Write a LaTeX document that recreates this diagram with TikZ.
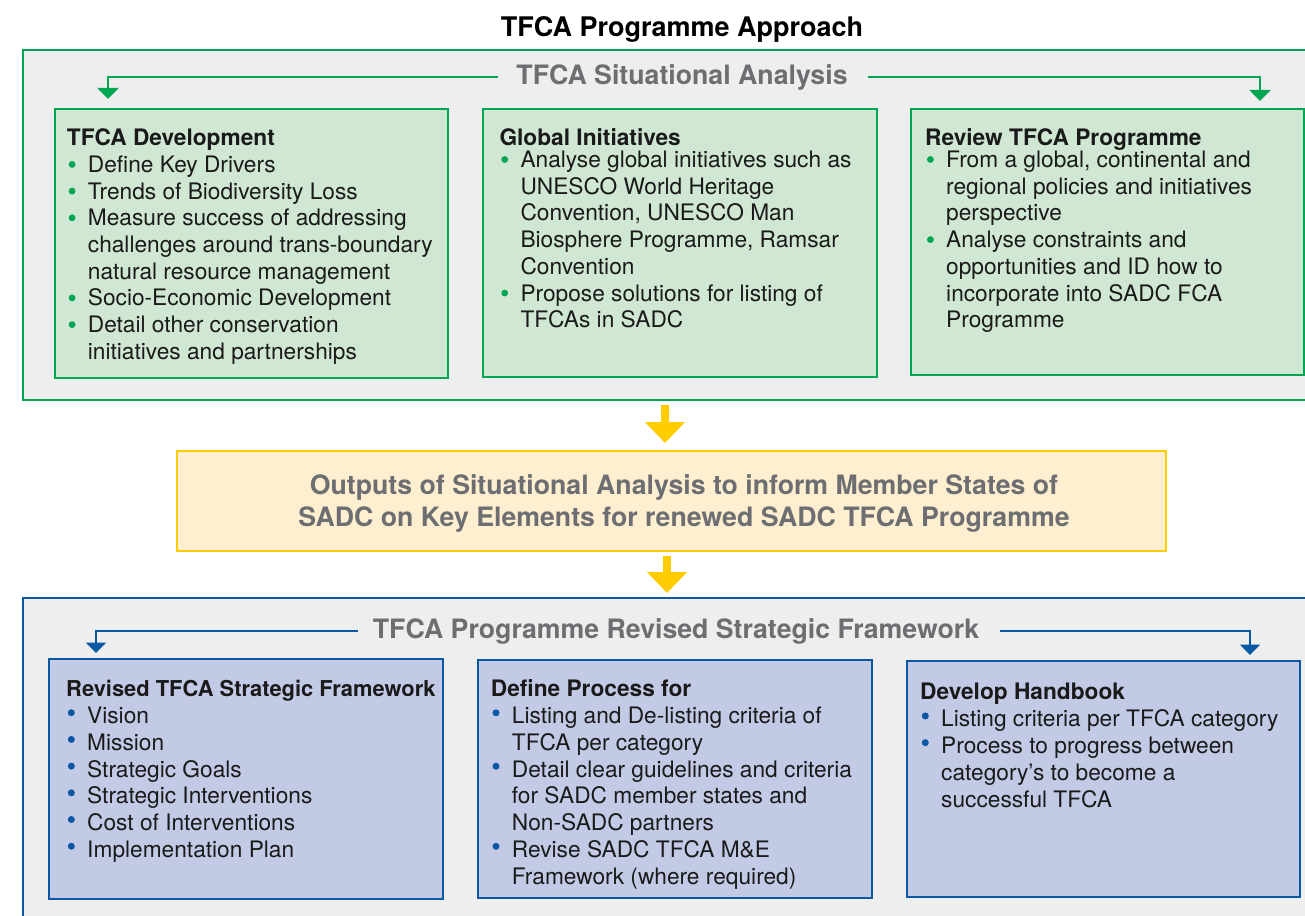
\documentclass[tikz,border=0pt]{standalone}
\usepackage{fontspec}
\setmainfont{TeX Gyre Heros}
\usetikzlibrary{arrows.meta}
\definecolor{tgreen}{HTML}{00A651}
\definecolor{lgreen}{HTML}{D0E7D3}
\definecolor{tblue}{HTML}{0A57A4}
\definecolor{lblue}{HTML}{C3CAE6}
\definecolor{tyellow}{HTML}{FFCC00}
\definecolor{lyellow}{HTML}{FEEFD0}
\definecolor{bggray}{HTML}{EEEEEE}
\definecolor{tgray}{HTML}{6D6E71}
\definecolor{txt}{HTML}{1A1A1A}
\newcommand{\gbul}{\makebox[21pt][l]{\hspace{1.8pt}\tikz[baseline=0pt]\fill[tgreen] (3.4pt,8pt) circle[radius=3.4pt];}}
\newcommand{\bbul}{\makebox[21pt][l]{\hspace{1.6pt}\tikz[baseline=0pt]\fill[tblue] (3.5pt,11pt) circle[radius=3.5pt];}}
\newcommand{\cind}{\hspace*{21pt}}
\begin{document}
\begin{tikzpicture}[x=1pt,y=-1pt,
  gbox/.style={draw=tgreen, fill=lgreen, line width=2.2pt, anchor=north west, inner sep=0pt, outer sep=0pt},
  bbox/.style={draw=tblue, fill=lblue, line width=2.2pt, anchor=north west, inner sep=0pt, outer sep=0pt},
  ybox/.style={draw=tyellow, fill=lyellow, line width=2.2pt, anchor=north west, inner sep=0pt, outer sep=0pt},
  body/.style={anchor=north west, inner sep=0pt, align=left, font=\fontsize{22.7pt}{26.7pt}\selectfont, text=txt},
  lbl/.style={font=\fontsize{26.7pt}{31pt}\selectfont\bfseries, text=tgray, inner sep=0pt},
  garr/.style={draw=tgreen, line width=2pt, -{Triangle[width=21pt,length=11pt]}},
  barr/.style={draw=tblue, line width=2pt, -{Triangle[width=20pt,length=10.5pt]}},
  yarr/.style={draw=tyellow, line width=8pt, -{Triangle[width=39pt,length=21pt]}}
]
\useasboundingbox (0,0) rectangle (1305,915);
\clip (0,0) rectangle (1305,915);
\fill[white] (0,0) rectangle (1305,915);

% title
\node[font=\fontsize{27pt}{31pt}\selectfont\bfseries, text=black, inner sep=0pt] (title) at (682,29) {TFCA Programme Approach};

% green frame
\draw[draw=tgreen, fill=bggray, line width=2.4pt] (23,50) rectangle (1340,400);
\node[lbl] (gl) at (682,77) {TFCA Situational Analysis};
\node[gbox, minimum width=393pt, minimum height=269pt] (g1) at (55,109) {};
\node[gbox, minimum width=394pt, minimum height=268pt] (g2) at (483,109) {};
\node[gbox, minimum width=393pt, minimum height=266pt] (g3) at (911,109) {};
\coordinate (gt1) at (108,99);
\coordinate (gt3) at (1260,101);
\draw[garr] ([xshift=-18pt]gl.west) -| (gt1);
\draw[garr] ([xshift=20pt]gl.east) -| (gt3);

\node[body] (g1t) at (66.7,128) {\textbf{TFCA Development}\\[0.7pt]
\gbul Define Key Drivers\\
\gbul Trends of Biodiversity Loss\\
\gbul Measure success of addressing\\
\cind challenges around trans-boundary\\
\cind natural resource management\\
\gbul Socio-Economic Development\\
\gbul Detail other conservation\\
\cind initiatives and partnerships};

\node[body] (g2t) at (499.3,128) {\textbf{Global Initiatives}\\[-4.3pt]
\gbul Analyse global initiatives such as\\
\cind UNESCO World Heritage\\
\cind Convention, UNESCO Man\\
\cind Biosphere Programme, Ramsar\\
\cind Convention\\
\gbul Propose solutions for listing of\\
\cind TFCAs in SADC};

\node[body] (g3t) at (925,128) {\textbf{Review TFCA Programme}\\[-4.3pt]
\gbul From a global, continental and\\
\cind regional policies and initiatives\\
\cind perspective\\
\gbul Analyse constraints and\\
\cind opportunities and ID how to\\
\cind incorporate into SADC FCA\\
\cind Programme};

% yellow
\node[ybox, minimum width=989pt, minimum height=100pt] (yb) at (177,451) {};
\node[font=\fontsize{26.7pt}{32pt}\selectfont\bfseries, text=tgray, inner sep=0pt, align=center] (yt) at (684,503) {Outputs of Situational Analysis to inform Member States of\\SADC on Key Elements for renewed SADC TFCA Programme};
\coordinate (ya1s) at (665,405);
\coordinate (ya1e) at (665,443);
\coordinate (ya2s) at (667,556);
\coordinate (ya2e) at (667,593);
\draw[yarr] (ya1s) -- (ya1e);
\draw[yarr] (ya2s) -- (ya2e);

% blue frame
\draw[draw=tblue, fill=bggray, line width=2.4pt] (23,598) rectangle (1340,940);
\node[lbl] (bl) at (676,631) {TFCA Programme Revised Strategic Framework};
\node[bbox, minimum width=394pt, minimum height=240pt] (b1) at (49,659) {};
\node[bbox, minimum width=394pt, minimum height=238pt] (b2) at (478,660) {};
\node[bbox, minimum width=393pt, minimum height=236pt] (b3) at (907,661) {};
\coordinate (bt1) at (96,653);
\coordinate (bt3) at (1250,655);
\draw[barr] ([xshift=-15pt]bl.west) -| (bt1);
\draw[barr] ([xshift=21pt]bl.east) -| (bt3);

\node[body] (b1t) at (66,679.5) {{\fontsize{21.9pt}{26.7pt}\selectfont\textbf{Revised TFCA Strategic Framework}}\\[1pt]
\bbul Vision\\
\bbul Mission\\
\bbul Strategic Goals\\
\bbul Strategic Interventions\\
\bbul Cost of Interventions\\
\bbul Implementation Plan};

\node[body] (b2t) at (490.7,679.5) {\textbf{Define Process for}\\[0.5pt]
\bbul Listing and De-listing criteria of\\
\cind TFCA per category\\
\bbul Detail clear guidelines and criteria\\
\cind for SADC member states and\\
\cind Non-SADC partners\\
\bbul Revise SADC TFCA M\&E\\
\cind Framework (where required)};

\node[body] (b3t) at (920,682.5) {\textbf{Develop Handbook}\\[1pt]
\bbul Listing criteria per TFCA category\\
\bbul Process to progress between\\
\cind category's to become a\\
\cind successful TFCA};
\end{tikzpicture}
\end{document}
